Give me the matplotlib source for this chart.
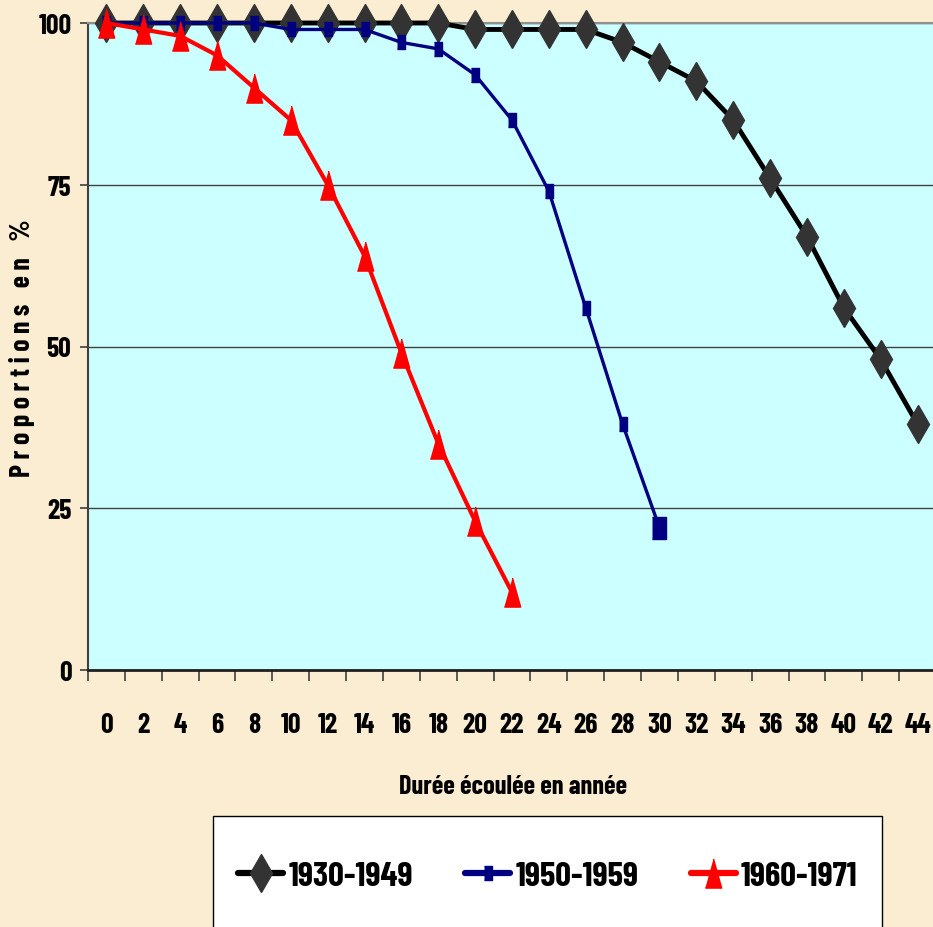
import numpy as np
import matplotlib.pyplot as plt
from matplotlib.patches import Rectangle

plt.rcParams['font.family'] = ['Barlow Condensed', 'DejaVu Sans']
plt.rcParams['font.weight'] = 'bold'

# data
years = list(range(0, 46, 2))
s1930 = [100, 100, 100, 100, 100, 100, 100, 100, 100, 100, 99, 99, 99, 99,
         97, 94, 91, 85, 76, 67, 56, 48, 38]
s1950 = [100, 100, 100, 100, 100, 99, 99, 99, 97, 96, 92, 85, 74, 56, 38, 22]
s1960 = [100, 99, 98, 95, 90, 85, 75, 64, 49, 35, 23, 12]
labels = ['1930-1949', '1950-1959', '1960-1971']
yticks = [0, 25, 50, 75, 100]

W, H = 933, 928
fig = plt.figure(figsize=(W / 100, H / 100), dpi=100, facecolor='#FAEDD2')
ax = fig.add_axes([88 / W, (H - 671) / H, (936 - 88) / W, (671 - 24) / H])
ax.set_facecolor('#CCFFFF')

tri = [(-0.28, -0.5), (0.28, -0.5), (0, 0.5)]
rect = [(-0.3, -0.5), (0.3, -0.5), (0.3, 0.5), (-0.3, 0.5)]

x1 = np.arange(len(s1930))
x2 = np.arange(len(s1950))
x3 = np.arange(len(s1960))
l1, = ax.plot(x1, s1930, color='black', lw=3.5, marker='d', ms=19,
              mfc='#333333', mec='#333333', clip_on=False, zorder=3)
l2, = ax.plot(x2, s1950, color='#000080', lw=2.4, marker=rect, ms=10,
              mfc='#000080', mec='#000080', clip_on=False, zorder=4,
              markevery=list(range(len(s1950) - 1)))
ax.plot(x2[-1:], s1950[-1:], ls='none', marker=rect, ms=16, color='#000080',
        clip_on=False, zorder=4)
l3, = ax.plot(x3, s1960, color='#FF0000', lw=3.0, marker=tri, ms=21,
              mfc='#FF0000', mec='#FF0000', clip_on=False, zorder=5)

ax.set_xlim(-0.5, len(years) - 0.5)
ax.set_ylim(0, 100)
ax.set_xticks(np.arange(-0.5, len(years), 1))
ax.set_xticklabels([])
ax.set_xticks(np.arange(len(years)), minor=True)
ax.set_xticklabels([str(y) for y in years], minor=True)
ax.tick_params(axis='x', which='major', direction='out', length=8, width=1.2, color='#404040')
ax.tick_params(axis='x', which='minor', length=0, pad=30, labelsize=20)
ax.set_yticks(yticks)
ax.set_yticklabels([str(v) for v in yticks])
ax.tick_params(axis='y', direction='out', length=6, width=1.2, color='#404040',
               pad=6, labelsize=20)

ax.yaxis.grid(True, color='#404040', lw=1)
ax.set_axisbelow(True)
ax.spines['right'].set_visible(False)
ax.spines['top'].set_color('#909090')
ax.spines['top'].set_linewidth(1.5)
ax.spines['left'].set_color('#404040')
ax.spines['left'].set_linewidth(1.5)
ax.spines['bottom'].set_color('#202020')
ax.spines['bottom'].set_linewidth(2)

fig.text(22 / W, 1 - 348 / H, 'P r o p o r t i o n s   e n   %', rotation=90,
         ha='center', va='center', fontsize=20, fontweight='bold')
fig.text(513 / W, 1 - 787 / H, 'Durée écoulée en année', ha='center', va='center',
         fontsize=19, fontweight='bold')

fig.patches.append(Rectangle((213 / W, -0.05), (882 - 213) / W, 0.05 + (928 - 817) / H,
                             transform=fig.transFigure, facecolor='white',
                             edgecolor='black', lw=1, zorder=1))
leg = fig.legend([l1, l2, l3], labels, loc='center', bbox_to_anchor=(548 / W, 1 - 877 / H),
                 ncol=3, frameon=False, fontsize=25, handlelength=1.3, handletextpad=0.15,
                 columnspacing=1.5, markerscale=1.0)
for h in leg.get_lines():
    h.set_linewidth(4.5)
    h.set_solid_capstyle('round')

fig.savefig('out.png', dpi=100, facecolor=fig.get_facecolor())
